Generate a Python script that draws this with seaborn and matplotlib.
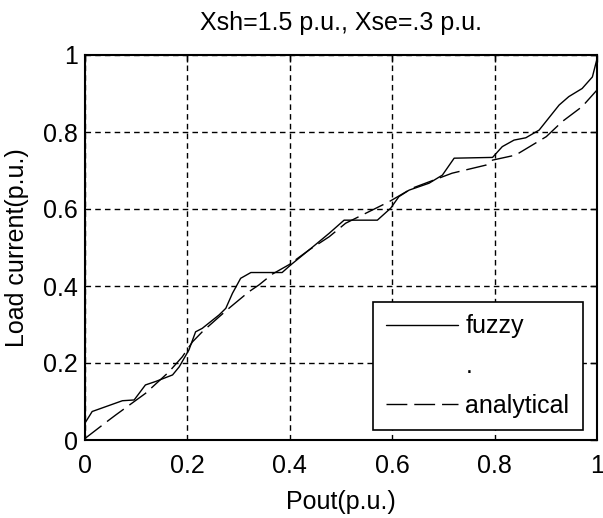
import matplotlib
matplotlib.use("Agg")
import matplotlib.pyplot as plt
from matplotlib import font_manager
from matplotlib.lines import Line2D
import seaborn as sns
import pandas as pd

# ---- data ----
fuzzy_x = [0, 0.014, 0.073, 0.096, 0.118, 0.138, 0.171, 0.184, 0.203, 0.216, 0.229,
           0.262, 0.275, 0.288, 0.304, 0.324, 0.385, 0.402, 0.438, 0.477, 0.506, 0.571,
           0.597, 0.613, 0.633, 0.672, 0.698, 0.721, 0.796, 0.815, 0.838, 0.861, 0.887,
           0.926, 0.945, 0.971, 0.991, 1.0]
fuzzy_y = [0.044, 0.074, 0.102, 0.104, 0.143, 0.152, 0.169, 0.19, 0.234, 0.281, 0.29,
           0.325, 0.342, 0.381, 0.42, 0.435, 0.435, 0.455, 0.494, 0.537, 0.571, 0.571,
           0.602, 0.632, 0.649, 0.667, 0.688, 0.732, 0.734, 0.762, 0.779, 0.785, 0.805,
           0.870, 0.892, 0.913, 0.943, 0.99]
analytical_x = [0, 0.047, 0.06, 0.118, 0.164, 0.19, 0.21, 0.229, 0.262, 0.281, 0.32,
                0.34, 0.366, 0.398, 0.438, 0.477, 0.509, 0.594, 0.639, 0.717, 0.783,
                0.796, 0.841, 0.901, 0.932, 0.971, 1.0]
analytical_y = [0.004, 0.052, 0.065, 0.121, 0.177, 0.216, 0.255, 0.281, 0.32, 0.342,
                0.385, 0.403, 0.431, 0.455, 0.494, 0.528, 0.563, 0.619, 0.654, 0.693,
                0.714, 0.727, 0.740, 0.788, 0.827, 0.866, 0.909]
ticks = [0, 0.2, 0.4, 0.6, 0.8, 1]
tick_labels = ["0", "0.2", "0.4", "0.6", "0.8", "1"]
legend_labels = ["fuzzy", ".", "analytical"]
title = "Xsh=1.5 p.u., Xse=.3 p.u."
xlabel = "Pout(p.u.)"
ylabel = "Load current(p.u.)"

sns.set_style("white")
names = {f.name for f in font_manager.fontManager.ttflist}
base = "Liberation Sans" if "Liberation Sans" in names else "DejaVu Sans"
plt.rcParams["font.family"] = [base, "DejaVu Sans"]
plt.rcParams["text.color"] = "black"
plt.rcParams["axes.labelcolor"] = "black"
plt.rcParams["xtick.color"] = "black"
plt.rcParams["ytick.color"] = "black"

FS = 18
fig = plt.figure(figsize=(6.03, 5.18), dpi=100)
ax = fig.add_axes([85 / 603, 78 / 518, 512 / 603, 385 / 518])

df_f = pd.DataFrame({"x": fuzzy_x, "y": fuzzy_y})
df_a = pd.DataFrame({"x": analytical_x, "y": analytical_y})
sns.lineplot(data=df_f, x="x", y="y", ax=ax, color="black", lw=1.0,
             estimator=None, sort=False)
sns.lineplot(data=df_a, x="x", y="y", ax=ax, color="black", lw=1.0,
             estimator=None, sort=False)
ax.lines[-1].set_dashes([15, 5])

ax.set_xlim(0, 1)
ax.set_ylim(0, 1)
ax.set_xticks(ticks)
ax.set_xticklabels(tick_labels)
ax.set_yticks(ticks)
ax.set_yticklabels(tick_labels)
ax.tick_params(direction="in", length=5, width=1, labelsize=FS,
               top=True, right=True, colors="black", labelcolor="black")
ax.tick_params(axis="x", pad=10)
ax.tick_params(axis="y", pad=5)
ax.grid(True, color="black", linestyle=(0, (4, 3)), linewidth=1.0)
for s in ax.spines.values():
    s.set_color("black")
    s.set_linewidth(1.5)

ax.set_title(title, fontsize=FS, pad=18, color="black")
ax.set_xlabel(xlabel, fontsize=FS, labelpad=9, color="black")
ax.set_ylabel(ylabel, fontsize=FS, labelpad=10, color="black")

handles = [Line2D([], [], color="black", lw=1.0),
           Line2D([], [], color="none", lw=0),
           Line2D([], [], color="black", lw=1.0, dashes=[15, 5])]
leg = ax.legend(handles, legend_labels, loc="lower left",
                bbox_to_anchor=(288 / 512, 10 / 385, 210 / 512, 0.3), mode="expand",
                fontsize=FS, frameon=True, fancybox=False, handlelength=2.9,
                handletextpad=0.3, borderaxespad=0, labelspacing=0.62,
                borderpad=0.5, labelcolor="black")
leg.get_frame().set_edgecolor("black")
leg.get_frame().set_linewidth(1.2)
leg.get_frame().set_facecolor("white")
leg.get_frame().set_alpha(1)

fig.savefig("out.png", dpi=100)
